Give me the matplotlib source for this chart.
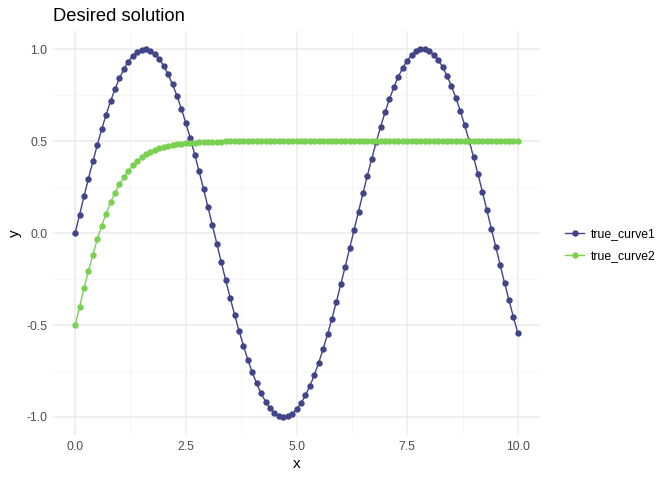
import matplotlib
matplotlib.use("Agg")
import matplotlib.pyplot as plt
from matplotlib.ticker import MultipleLocator, FormatStrFormatter

plt.rcParams["axes.unicode_minus"] = False
plt.rcParams["font.family"] = ["Liberation Sans", "DejaVu Sans"]

# ==========================
# DATA
# ==========================
x = [i / 10 for i in range(101)]

true_curve1 = [
    0.000, 0.100, 0.199, 0.296, 0.389, 0.479, 0.565, 0.644, 0.717, 0.783,
    0.841, 0.891, 0.932, 0.964, 0.985, 0.997, 1.000, 0.992, 0.974, 0.946,
    0.909, 0.863, 0.808, 0.746, 0.675, 0.598, 0.516, 0.427, 0.335, 0.239,
    0.141, 0.042, -0.058, -0.158, -0.256, -0.351, -0.443, -0.530, -0.612, -0.688,
    -0.757, -0.818, -0.872, -0.916, -0.952, -0.978, -0.994, -1.000, -0.996, -0.982,
    -0.959, -0.926, -0.883, -0.832, -0.773, -0.706, -0.631, -0.551, -0.465, -0.374,
    -0.279, -0.182, -0.083, 0.017, 0.117, 0.215, 0.312, 0.405, 0.494, 0.578,
    0.657, 0.729, 0.794, 0.850, 0.899, 0.938, 0.968, 0.988, 0.999, 0.999,
    0.989, 0.970, 0.941, 0.902, 0.855, 0.798, 0.734, 0.663, 0.585, 0.501,
    0.412, 0.319, 0.223, 0.124, 0.024, -0.075, -0.174, -0.272, -0.366, -0.458,
    -0.544,
]

true_curve2 = [
    -0.500, -0.400, -0.300, -0.207, -0.118, -0.034, 0.040, 0.105, 0.168, 0.219,
    0.265, 0.303, 0.337, 0.368, 0.389, 0.411, 0.428, 0.440, 0.451, 0.460,
    0.467, 0.473, 0.478, 0.482, 0.485, 0.488, 0.490, 0.492, 0.493, 0.494,
    0.495, 0.496, 0.497, 0.497, 0.498, 0.498, 0.499, 0.499, 0.499, 0.499,
    0.500, 0.500, 0.500, 0.500, 0.500, 0.500, 0.500, 0.500, 0.500, 0.500,
    0.500, 0.500, 0.500, 0.500, 0.500, 0.500, 0.500, 0.500, 0.500, 0.500,
    0.500, 0.500, 0.500, 0.500, 0.500, 0.500, 0.500, 0.500, 0.500, 0.500,
    0.500, 0.500, 0.500, 0.500, 0.500, 0.500, 0.500, 0.500, 0.500, 0.500,
    0.500, 0.500, 0.500, 0.500, 0.500, 0.500, 0.500, 0.500, 0.500, 0.500,
    0.500, 0.500, 0.500, 0.500, 0.500, 0.500, 0.500, 0.500, 0.500, 0.500,
    0.500,
]

series = ["true_curve1", "true_curve2"]
colors = ["#414487", "#7AD151"]

# ==========================
# FIGURE
# ==========================
fig = plt.figure(figsize=(6.72, 4.8), dpi=100)
ax = fig.add_axes([0.0789, 0.093, 0.7247, 0.843])

for name, vals, col in zip(series, [true_curve1, true_curve2], colors):
    ax.plot(x, vals, color=col, linewidth=1.0, marker="o",
            markersize=4.6, markeredgewidth=0, label=name, zorder=3)

ax.set_xlim(-0.5, 10.5)
ax.set_ylim(-1.1, 1.1)
ax.xaxis.set_major_locator(MultipleLocator(2.5))
ax.xaxis.set_minor_locator(MultipleLocator(1.25))
ax.yaxis.set_major_locator(MultipleLocator(0.5))
ax.yaxis.set_minor_locator(MultipleLocator(0.25))
ax.xaxis.set_major_formatter(FormatStrFormatter("%.1f"))
ax.yaxis.set_major_formatter(FormatStrFormatter("%.1f"))

ax.grid(which="major", color="#EBEBEB", linewidth=1.1)
ax.grid(which="minor", color="#F3F3F3", linewidth=0.55)
ax.set_axisbelow(True)
for spine in ax.spines.values():
    spine.set_visible(False)
ax.tick_params(which="both", length=0, labelsize=8.8, labelcolor="#4D4D4D", pad=4)

ax.set_xlabel("x", fontsize=11, labelpad=3)
ax.set_ylabel("y", fontsize=11, labelpad=3)
ax.set_title("Desired solution", fontsize=13.2, loc="left", x=0.0, pad=7)

leg = ax.legend(loc="center left", bbox_to_anchor=(0.825, 0.4896),
                bbox_transform=fig.transFigure, frameon=False,
                fontsize=8.8, handlelength=1.5, handletextpad=0.6,
                labelspacing=0.8)

fig.savefig("out.png", dpi=100)
